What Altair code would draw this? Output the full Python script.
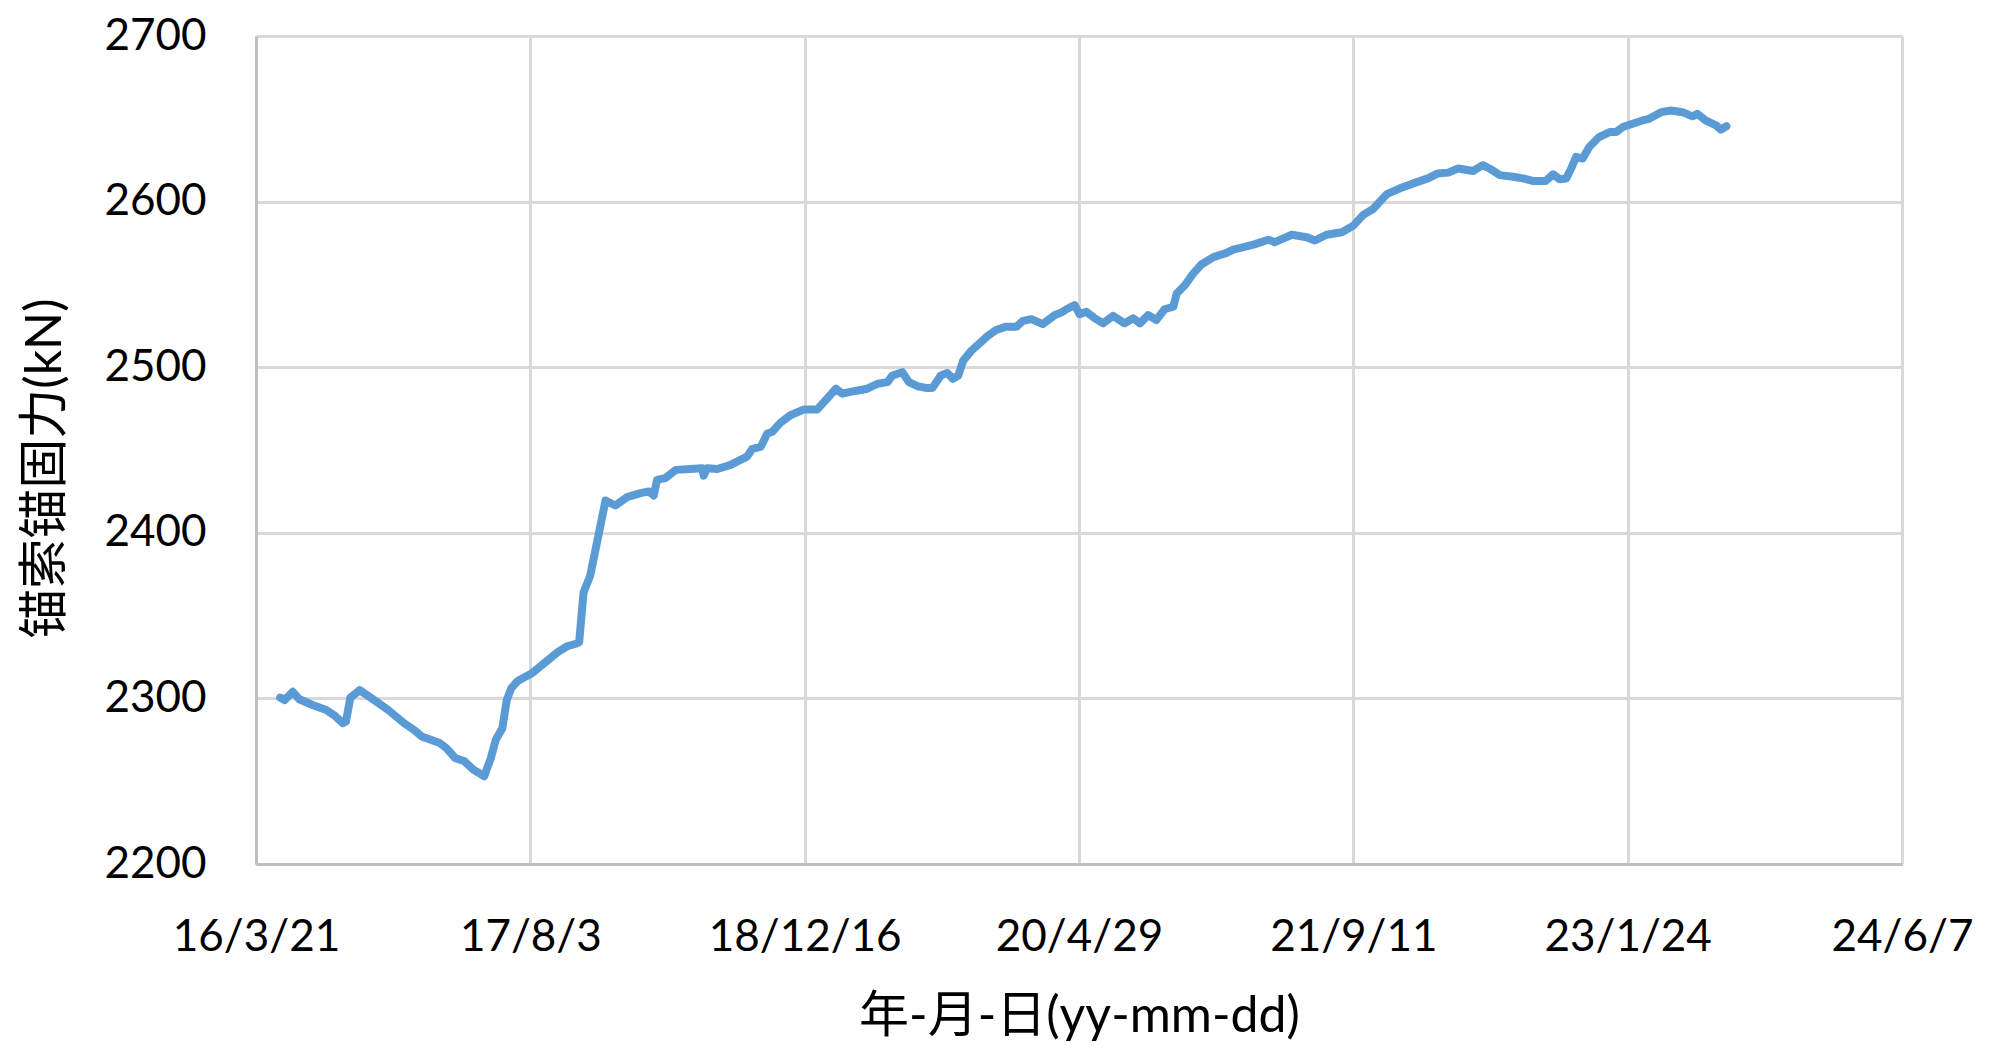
import altair as alt
import pandas as pd

# days since 2016-03-21 and anchoring force (kN)
day_offsets = [44, 52, 67, 79, 103, 128, 144, 158, 164, 172, 189, 209, 241, 270, 290, 302, 335, 347, 363, 380,
               396, 416, 428, 437, 449, 457, 465, 477, 502, 526, 550, 567, 583, 589, 597, 609, 622, 637, 655, 676,
               701, 716, 725, 731, 746, 765, 792, 813, 816, 822, 841, 865, 895, 904, 920, 932, 941, 956, 974, 999,
               1023, 1057, 1069, 1090, 1114, 1133, 1151, 1160, 1178, 1190, 1206, 1221, 1233, 1248, 1260, 1270, 1280,
               1289, 1304, 1319, 1334, 1349, 1367, 1386, 1398, 1413, 1434, 1456, 1468, 1477, 1492, 1501, 1513, 1529,
               1544, 1562, 1583, 1599, 1611, 1626, 1641, 1656, 1672, 1678, 1693, 1708, 1723, 1745, 1769, 1781, 1818,
               1845, 1857, 1888, 1915, 1930, 1951, 1979, 2000, 2018, 2036, 2061, 2085, 2109, 2136, 2154, 2173, 2191,
               2218, 2236, 2248, 2267, 2291, 2309, 2327, 2351, 2364, 2376, 2388, 2397, 2406, 2418, 2430, 2448, 2467,
               2479, 2491, 2509, 2527, 2539, 2561, 2579, 2600, 2618, 2627, 2642, 2661, 2670, 2680]
force_kn = [2300.5, 2299, 2304, 2299.5, 2296, 2293, 2289.5, 2285, 2286, 2300.5, 2305, 2300.5, 2293, 2285, 2280.5,
            2277, 2273, 2270, 2264, 2262, 2257, 2253, 2264, 2275, 2282, 2299, 2306, 2310.5, 2315, 2321.5, 2328,
            2331.5, 2333, 2334, 2364, 2374, 2395, 2419.5, 2416.5, 2421.5, 2424, 2425, 2422.5, 2432, 2433, 2438,
            2438.5, 2439, 2434.5, 2439, 2438.5, 2441, 2446, 2450.5, 2452, 2460, 2461, 2466.5, 2471, 2474.5, 2474.5,
            2487, 2484, 2485.5, 2487, 2490, 2491, 2495, 2497, 2491, 2488.5, 2487.5, 2487.5, 2495, 2496.5, 2493,
            2495, 2504, 2510, 2514.5, 2519, 2522.5, 2524.5, 2524.5, 2528, 2529, 2526, 2531.5, 2533, 2535, 2537.5,
            2532, 2533.5, 2529.5, 2526.5, 2531, 2526.5, 2529.5, 2526.5, 2531.5, 2528.5, 2535, 2536.5, 2544.5,
            2549.5, 2556.5, 2562, 2566.5, 2569, 2571, 2574, 2577, 2575.5, 2580, 2578.5, 2576.5, 2580, 2581.5,
            2585.5, 2592, 2595.5, 2604.5, 2608, 2611, 2614, 2617, 2617.5, 2620, 2618.5, 2622, 2620, 2616, 2615,
            2614, 2612.5, 2612.5, 2616.5, 2613.5, 2614, 2620, 2627, 2626, 2633, 2639, 2642, 2642, 2645, 2647,
            2649, 2650, 2654, 2655, 2654, 2651.5, 2653, 2649, 2646, 2643.5, 2645.5]

start_date = "2016-03-21"
x_tick_dates = ["2016-03-21", "2017-08-03", "2018-12-16", "2020-04-29", "2021-09-11", "2023-01-24", "2024-06-07"]
y_ticks = [2200, 2300, 2400, 2500, 2600, 2700]

base = pd.Timestamp(start_date)
df = pd.DataFrame({
    "date": [(base + pd.Timedelta(days=d)).strftime("%Y-%m-%d") for d in day_offsets],
    "force": force_kn,
})

def ms(s):
    return int(pd.Timestamp(s).value // 10**6)

x_vals = [ms(s) for s in x_tick_dates]

LABEL_FONT = "Lato"
TITLE_FONT = "Lato, 'Noto Sans CJK SC'"

chart = alt.Chart(df).mark_line(
    color="#5B9BD5", strokeWidth=8, strokeCap="round", strokeJoin="round"
).encode(
    x=alt.X("date:T",
            scale=alt.Scale(type="utc", domain=[x_vals[0], x_vals[-1]], nice=False),
            axis=alt.Axis(values=x_vals, labelExpr="utcFormat(datum.value, '%y/%-m/%-d')",
                          title="年-月-日(yy-mm-dd)", labelFlush=False, labelOverlap=False,
                          labelLimit=0,
                          titleX=823, titleY=152, titleBaseline="middle", titleAlign="center")),
    y=alt.Y("force:Q",
            scale=alt.Scale(domain=[2200, 2700], nice=False, zero=False),
            axis=alt.Axis(values=y_ticks, format="d", title="锚索锚固力(kN)",
                          titleX=-211, titleY=432, titleAngle=-90,
                          titleBaseline="middle", titleAlign="center")),
).properties(
    width=1646, height=828,
    autosize=alt.AutoSizeParams(type="none"),
    padding={"left": 248, "top": 28, "right": 85, "bottom": 183},
).configure_view(
    stroke=None
).configure_axis(
    grid=True, gridColor="#d9d9d9", gridWidth=3,
    domainColor="#bfbfbf", domainWidth=3,
    ticks=False, labelPadding=50,
    labelFont=LABEL_FONT, labelFontSize=44, labelColor="#000000",
    titleFont=TITLE_FONT, titleFontSize=50, titleColor="#000000", titleFontWeight="normal",
).configure_axisX(
    labelPadding=51
)

chart.save("out.html", embed_options={"renderer": "svg", "actions": False})
